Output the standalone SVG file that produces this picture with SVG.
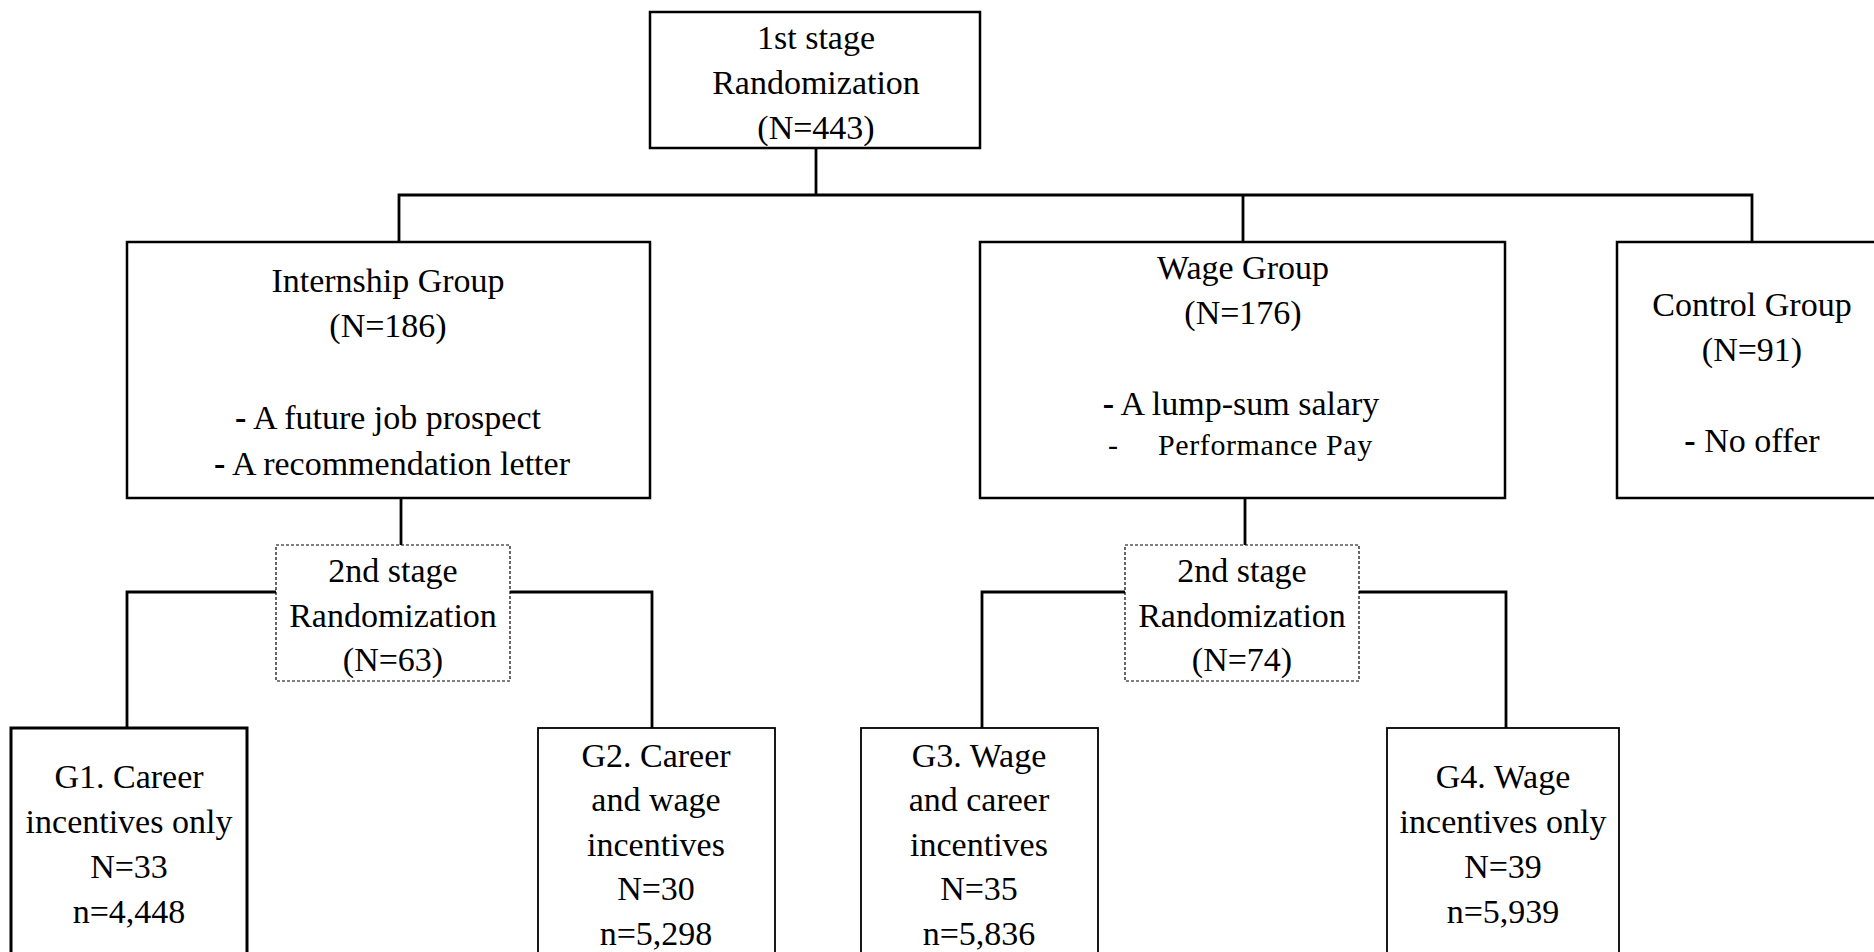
<svg xmlns="http://www.w3.org/2000/svg" width="1874" height="952" viewBox="0 0 1874 952">
<style>
  .bg { fill: #ffffff; }
  .box { fill: #ffffff; stroke: #000000; stroke-width: 2.5; }
  .sub { fill: #ffffff; stroke: #000000; stroke-width: 1.8; }
  .thick { fill: #ffffff; stroke: #000000; stroke-width: 3; }
  .dash { fill: #ffffff; stroke: #000000; stroke-width: 1.2; stroke-dasharray: 3 2; }
  .conn { fill: none; stroke: #000000; stroke-width: 2.8; }
  text { font-family: "Liberation Serif", "Times New Roman", serif; font-size: 34px; fill: #000000; text-anchor: middle; }
  .small { font-size: 30px; text-anchor: start; letter-spacing: 0.6px; }
  .b { font-weight: bold; }
</style>
<rect class="bg" x="0" y="0" width="1874" height="952"/>

<g id="connectors">
  <path class="conn" d="M816 148 V195"/>
  <path class="conn" d="M399 241 V195 H1752 V241"/>
  <path class="conn" d="M1243 195 V241"/>
  <path class="conn" d="M401 498 V545"/>
  <path class="conn" d="M276 592 H127 V728"/>
  <path class="conn" d="M510 592 H652 V728"/>
  <path class="conn" d="M1245 498 V545"/>
  <path class="conn" d="M1125 592 H982 V728"/>
  <path class="conn" d="M1359 592 H1506 V728"/>
</g>

<g id="stage1">
  <rect class="box" x="650" y="12" width="330" height="136"/>
  <text x="816" y="49">1st stage</text>
  <text x="816" y="94">Randomization</text>
  <text x="816" y="139">(N=443)</text>
</g>

<g id="internship">
  <rect class="box" x="127" y="242" width="523" height="256"/>
  <text x="388" y="292">Internship Group</text>
  <text x="388" y="337">(N=186)</text>
  <text x="388" y="429"><tspan class="b">-</tspan> A future job prospect</text>
  <text x="392" y="475"><tspan class="b">-</tspan> A recommendation letter</text>
</g>

<g id="wage">
  <rect class="box" x="980" y="242" width="525" height="256"/>
  <text x="1243" y="279">Wage Group</text>
  <text x="1243" y="324">(N=176)</text>
  <text x="1241" y="415"><tspan class="b">-</tspan> A lump-sum salary</text>
  <text class="small" x="1108" y="455">-</text>
  <text class="small" x="1158" y="455">Performance Pay</text>
</g>

<g id="control">
  <rect class="box" x="1617" y="242" width="270" height="256"/>
  <text x="1752" y="316">Control Group</text>
  <text x="1752" y="361">(N=91)</text>
  <text x="1752" y="452"><tspan class="b">-</tspan> No offer</text>
</g>

<g id="stage2-internship">
  <rect class="dash" x="276" y="545" width="234" height="136"/>
  <text x="393" y="582">2nd stage</text>
  <text x="393" y="627">Randomization</text>
  <text x="393" y="671">(N=63)</text>
</g>

<g id="stage2-wage">
  <rect class="dash" x="1125" y="545" width="234" height="136"/>
  <text x="1242" y="582">2nd stage</text>
  <text x="1242" y="627">Randomization</text>
  <text x="1242" y="671">(N=74)</text>
</g>

<g id="g1">
  <rect class="thick" x="11" y="728" width="236" height="240"/>
  <text x="129" y="788">G1. Career</text>
  <text x="129" y="833">incentives only</text>
  <text x="129" y="878">N=33</text>
  <text x="129" y="923">n=4,448</text>
</g>

<g id="g2">
  <rect class="sub" x="538" y="728" width="237" height="240"/>
  <text x="656" y="767">G2. Career</text>
  <text x="656" y="811">and wage</text>
  <text x="656" y="856">incentives</text>
  <text x="656" y="900">N=30</text>
  <text x="656" y="945">n=5,298</text>
</g>

<g id="g3">
  <rect class="sub" x="861" y="728" width="237" height="240"/>
  <text x="979" y="767">G3. Wage</text>
  <text x="979" y="811">and career</text>
  <text x="979" y="856">incentives</text>
  <text x="979" y="900">N=35</text>
  <text x="979" y="945">n=5,836</text>
</g>

<g id="g4">
  <rect class="sub" x="1387" y="728" width="232" height="240"/>
  <text x="1503" y="788">G4. Wage</text>
  <text x="1503" y="833">incentives only</text>
  <text x="1503" y="878">N=39</text>
  <text x="1503" y="923">n=5,939</text>
</g>
</svg>
